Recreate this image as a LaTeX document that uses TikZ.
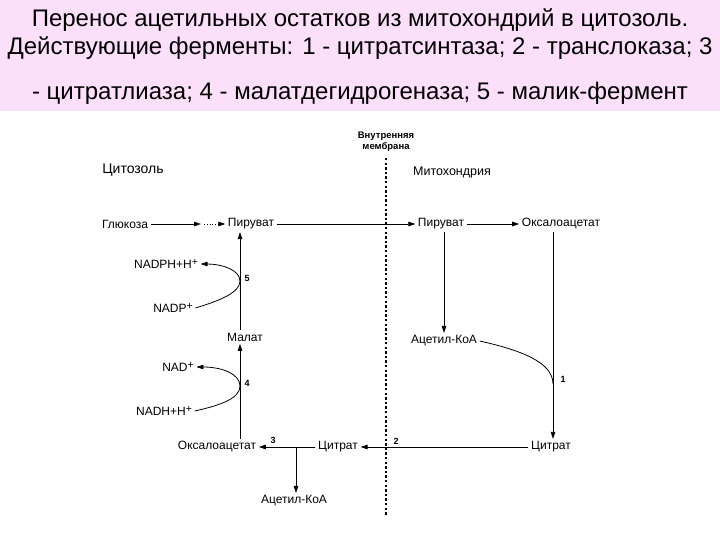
\documentclass[tikz,border=0pt]{standalone}
\usepackage{fontspec}
\setmainfont{Liberation Sans}
\usetikzlibrary{arrows.meta,positioning,calc}
\definecolor{titlepink}{RGB}{252,224,250}
\newcommand{\plus}{\raisebox{0.4ex}{\fontsize{10.5}{11}\selectfont+}}

\begin{document}
\begin{tikzpicture}[
      x=1pt,y=-1pt,
      sub/.style={inner sep=2.5pt,font=\fontsize{12}{14}\selectfont},
      co/.style={inner sep=2.5pt,font=\fontsize{12}{14}\selectfont},
      num/.style={inner sep=0pt,font=\fontsize{9}{10}\selectfont\bfseries},
      ttl/.style={anchor=base,font=\fontsize{24}{26}\selectfont},
      arr/.style={-{Triangle[length=7pt,width=4.5pt]},line width=0.8pt},
      lin/.style={line width=0.8pt},
      memb/.style={line width=2.8pt,dash pattern=on 2.4pt off 2.2pt},
    ]
    % page and title band
    \fill[white] (0,0) rectangle (720,540);
    \useasboundingbox (0,0) rectangle (720,540);
    \fill[titlepink] (0,0) rectangle (720,111);
    \node[ttl] (t1) at (360,27) {Перенос ацетильных остатков из митохондрий в цитозоль.};
    \node[ttl] (t2) at (360,55) {Действующие ферменты: 1 - цитратсинтаза; 2 - транслоказа; 3};
    \node[ttl] (t3) at (360,100) {- цитратлиаза; 4 - малатдегидрогеназа; 5 - малик-фермент};

    % membrane
    \node[inner sep=0pt,align=center,font=\fontsize{9.5}{11}\selectfont\bfseries] (mlbl) at (386,142) {Внутренняя\\мембрана};
    \coordinate (mtop) at (386,158);
    \coordinate (mbot) at (386,515);
    \draw[memb] (mtop) -- (mbot);

    % compartments
    \node[font=\fontsize{14}{16}\selectfont] (cyto) at (133,170) {Цитозоль};
    \node[font=\fontsize{12.5}{15}\selectfont] (mito) at (452,172) {Митохондрия};

    % metabolites
    \node[co] (glc) at (125,224) {Глюкоза};
    \node[sub] (pyrC) at (251,224) {Пируват};
    \node[sub] (pyrM) at (441,224) {Пируват};
    \node[sub] (oaaM) at (561,224) {Оксалоацетат};
    \node[co] (acoaM) at (444,341) {Ацетил-КоА};
    \node[sub] (citM) at (551,447) {Цитрат};
    \node[sub] (citC) at (338,447) {Цитрат};
    \node[sub] (oaaC) at (217,447) {Оксалоацетат};
    \node[co] (acoaC) at (294,501) {Ацетил-КоА};
    \node[sub] (mal) at (245,337) {Малат};
    \node[co] (nadph) at (166,264) {NADPH+H\plus};
    \node[co] (nadp) at (173,308) {NADP\plus};
    \node[co] (nad) at (178,367) {NAD\plus};
    \node[co] (nadh) at (164,411) {NADH+H\plus};

    % junction points
    \coordinate (g1) at (201,224);
    \coordinate (c5) at (240,281);
    \coordinate (c4) at (240,386);
    \coordinate (c1) at (553,384);
    \coordinate (br) at (296,447);

    % cytosol: glucose -> pyruvate
    \draw[arr] (glc.east) -- (g1);
    \draw[arr,dotted] ([xshift=3pt]g1) -- (pyrC.west);
    % transport and mitochondrial steps
    \draw[arr] (pyrC.east) -- (pyrM.west);
    \draw[arr] (pyrM.east) -- (oaaM.west);
    \draw[arr] (pyrM.south -| acoaM.north) -- (acoaM.north);
    \draw[arr] (oaaM.south -| c1) -- (citM.north -| c1);
    \draw[lin] (acoaM.east) .. controls (520,350) and (553,362) .. (c1);
    \node[num] (n1) at (563,379) {1};
    \draw[arr] (citM.west) -- (citC.east);
    \node[num] (n2) at (396,441) {2};
    % citrate lyase
    \draw[arr] (citC.west) -- (oaaC.east);
    \node[num] (n3) at (273,440) {3};
    \draw[arr] (br) -- (acoaC.north -| br);
    % malate dehydrogenase
    \draw[arr] (oaaC.north -| c4) -- (mal.south -| c4);
    \draw[arr] (nadh.east) .. controls (222,405) and (240,398) .. (c4)
      .. controls (240,374) and (222,367) .. (nad.east);
    \node[num] (n4) at (247,383) {4};
    % malic enzyme
    \draw[arr] (mal.north -| c5) -- (pyrC.south -| c5);
    \draw[arr] (nadp.east) .. controls (222,300) and (240,292) .. (c5)
      .. controls (240,270) and (222,264) .. (nadph.east);
    \node[num] (n5) at (247,278) {5};
  \end{tikzpicture}
\end{document}
